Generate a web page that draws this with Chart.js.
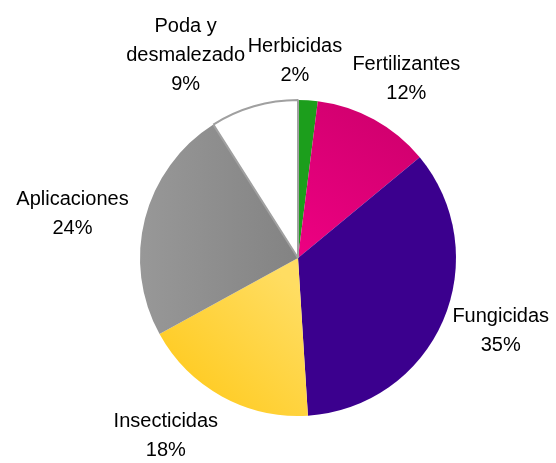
<!DOCTYPE html>
<html lang="es">
<head>
  <meta charset="UTF-8" />
  <title>Costos por rubro</title>
  <style>
    body {
      margin: 0;
      background: #fff;
    }
    #wrap {
      width: 556px;
      height: 463px;
    }
  </style>
  <script src="https://cdn.jsdelivr.net/npm/chart.js"></script>
</head>
<body>
  <div id="wrap"><canvas id="pieChart" width="556" height="463"></canvas></div>
  <script>
    // Data (clockwise from 12 o'clock)
    const categories = ["Herbicidas", "Fertilizantes", "Fungicidas", "Insecticidas", "Aplicaciones", "Poda y desmalezado"];
    const shares = [2, 12, 35, 18, 24, 9];
    // label text lines, as broken in the picture
    const labelLines = [["Herbicidas"], ["Fertilizantes"], ["Fungicidas"], ["Insecticidas"], ["Aplicaciones"], ["Poda y", "desmalezado"]];

    // Styling
    const sliceColors = [
      ["#1c9e1c", "#1c9e1c"],
      ["#ee0082", "#d0006e"],
      ["#42009a", "#3b008e"],
      ["#ffcd28", "#ffdd62"],
      ["#989898", "#838383"],
      ["#ffffff", "#ffffff"]
    ];
    const borderWidths = [0, 0, 0, 0, 0, 2];
    // label placement: angle nudge (deg) and distance as a multiple of radius
    const labelNudge = [
      { da: -4.5, k: 1.245 },
      { da: 2.4, k: 1.323 },
      { da: -3.7, k: 1.363 },
      { da: 7.8, k: 1.403 },
      { da: -3.4, k: 1.454 },
      { da: -12.8, k: 1.467 }
    ];

    function sliceFill(ctx) {
      const chart = ctx.chart;
      const area = chart.chartArea;
      const i = ctx.dataIndex;
      if (!area || i === undefined) return sliceColors[i || 0][0];
      const c = sliceColors[i];
      const cx = (area.left + area.right) / 2;
      const cy = (area.top + area.bottom) / 2;
      const r = Math.min(area.width, area.height) / 2;
      let g;
      if (i === 3) {
        g = chart.ctx.createLinearGradient(cx - r * 0.6, cy + r * 0.8, cx, cy + r * 0.2);
      } else if (i === 1) {
        g = chart.ctx.createLinearGradient(cx, cy, cx + r * 0.6, cy - r * 0.9);
      } else {
        g = chart.ctx.createLinearGradient(cx - r, cy, cx, cy);
      }
      g.addColorStop(0, c[0]);
      g.addColorStop(1, c[1]);
      return g;
    }

    // Draws "name / NN%" labels outside each slice
    const outsideLabels = {
      id: "outsideLabels",
      afterDatasetsDraw(chart) {
        const ctx = chart.ctx;
        const meta = chart.getDatasetMeta(0);
        const total = shares.reduce((a, b) => a + b, 0);
        ctx.save();
        ctx.font = "20px 'Liberation Sans', Arial, sans-serif";
        ctx.fillStyle = "#000";
        ctx.textAlign = "center";
        ctx.textBaseline = "middle";
        const lineH = 29;
        meta.data.forEach((arc, i) => {
          const p = arc.getProps(["x", "y", "startAngle", "endAngle", "outerRadius"], true);
          const mid = (p.startAngle + p.endAngle) / 2 + labelNudge[i].da * Math.PI / 180;
          const d = p.outerRadius * labelNudge[i].k;
          const lx = p.x + Math.cos(mid) * d;
          const ly = p.y + Math.sin(mid) * d;
          const lines = labelLines[i].concat([Math.round(shares[i] / total * 100) + "%"]);
          const y0 = ly - (lines.length - 1) * lineH / 2;
          lines.forEach((t, j) => ctx.fillText(t, lx, y0 + j * lineH));
        });
        ctx.restore();
      }
    };

    new Chart(document.getElementById("pieChart"), {
      type: "pie",
      data: {
        labels: categories,
        datasets: [{
          data: shares,
          backgroundColor: sliceFill,
          borderColor: "#a0a0a0",
          borderWidth: borderWidths,
          hoverOffset: 0
        }]
      },
      options: {
        responsive: false,
        animation: false,
        events: [],
        layout: { padding: { left: 138, right: 98, top: 99, bottom: 46 } },
        plugins: {
          legend: { display: false },
          tooltip: { enabled: false }
        }
      },
      plugins: [outsideLabels]
    });
  </script>
</body>
</html>
